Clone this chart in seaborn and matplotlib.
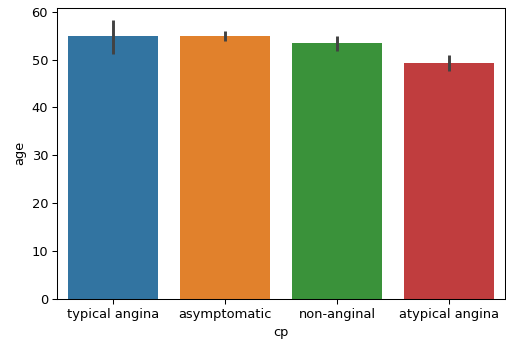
import matplotlib
matplotlib.use("Agg")
import matplotlib.pyplot as plt
import seaborn as sns
import pandas as pd

categories = ["typical angina", "asymptomatic", "non-anginal", "atypical angina"]
mean_age = [55.0, 54.9, 53.5, 49.3]
ci_low = [51.2, 53.9, 51.7, 47.6]
ci_high = [58.3, 56.0, 55.0, 51.0]

df = pd.DataFrame({"cp": categories, "age": mean_age})

DPI = 93.6
fig = plt.figure(figsize=(506 / DPI, 345 / DPI), dpi=DPI)
ax = fig.add_axes([0.113, 0.134, 0.885, 0.843])
sns.barplot(data=df, x="cp", y="age", hue="cp", palette="tab10",
            saturation=0.75, errorbar=None, legend=False, ax=ax)
ax.vlines(range(len(categories)), ci_low, ci_high, color="#424242", lw=2.25, zorder=3)
ax.set_xlim(-0.5, len(categories) - 0.5)
ax.set_ylim(0, 60.8)
ax.set_yticks([0, 10, 20, 30, 40, 50, 60])
fig.savefig("out.png", dpi=DPI)
